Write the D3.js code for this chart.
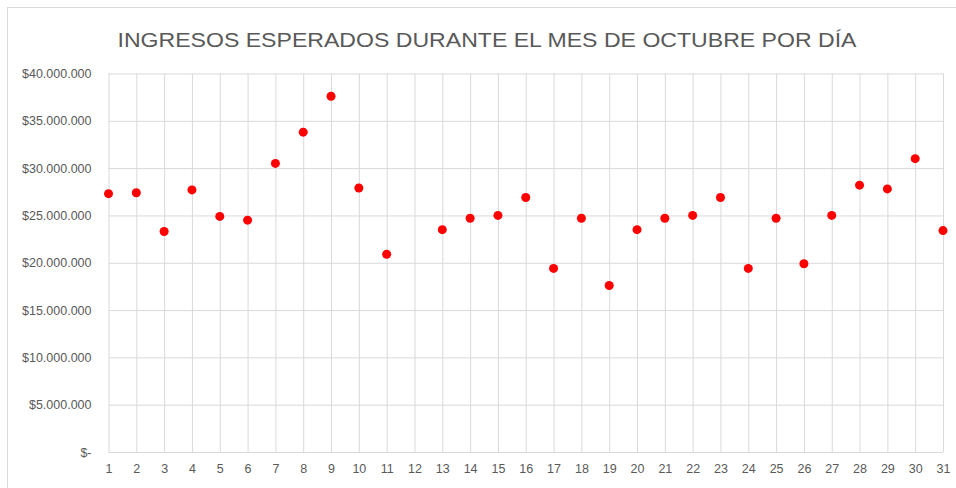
<!DOCTYPE html>
<html>
<head>
<meta charset="utf-8">
<script src="https://cdn.jsdelivr.net/npm/d3@7"></script>
<style>
  body { margin: 0; background: #ffffff; }
  svg { display: block; }
</style>
</head>
<body>
<div id="chart"></div>
<script>
// data (day 12 has no value)
const days = [1, 2, 3, 4, 5, 6, 7, 8, 9, 10, 11, 13, 14, 15, 16, 17, 18, 19, 20,
              21, 22, 23, 24, 25, 26, 27, 28, 29, 30, 31];
const ingresos = [27300000, 27400000, 23300000, 27700000, 24900000, 24500000,
                  30500000, 33800000, 37600000, 27900000, 20900000,
                  23500000, 24700000, 25000000, 26900000, 19400000, 24700000,
                  17600000, 23500000, 24700000, 25000000, 26900000, 19400000,
                  24700000, 19900000, 25000000, 28200000, 27800000, 31000000,
                  23400000];
const xTicks = d3.range(1, 32);
const yTicks = [0, 5000000, 10000000, 15000000, 20000000, 25000000,
                30000000, 35000000, 40000000];
const titulo = "INGRESOS ESPERADOS DURANTE EL MES DE OCTUBRE POR DÍA";

const width = 956, height = 488;
const margin = {left: 108.5, right: 13, top: 73.5, bottom: 36};

const svg = d3.select("#chart").append("svg")
    .attr("width", width)
    .attr("height", height);

// chart frame
svg.append("rect")
    .attr("x", 7.5).attr("y", 7.5)
    .attr("width", 980).attr("height", 520)
    .attr("fill", "#ffffff")
    .attr("stroke", "#d9d9d9");

const x = d3.scaleLinear()
    .domain([1, 31])
    .range([margin.left, width - margin.right]);
const y = d3.scaleLinear()
    .domain([0, 40000000])
    .range([height - margin.bottom, margin.top]);

const fmt = v => v === 0 ? "$-" : "$" + d3.format(",")(v).replace(/,/g, ".");

// horizontal grid + y labels
const yAxis = d3.axisLeft(y)
    .tickValues(yTicks)
    .tickSize(-(width - margin.left - margin.right))
    .tickPadding(17)
    .tickFormat(fmt);
const gy = svg.append("g")
    .attr("transform", `translate(${margin.left},0)`)
    .call(yAxis);
gy.select(".domain").remove();

// vertical grid + x labels
const xAxis = d3.axisBottom(x)
    .tickValues(xTicks)
    .tickSize(-(height - margin.top - margin.bottom))
    .tickPadding(12)
    .tickFormat(d3.format("d"));
const gx = svg.append("g")
    .attr("transform", `translate(0,${height - margin.bottom})`)
    .call(xAxis);
gx.select(".domain").remove();

svg.selectAll(".tick line")
    .attr("stroke", "#d9d9d9")
    .attr("stroke-width", 1);
svg.selectAll(".tick text")
    .attr("fill", "#595959")
    .style("font-family", "'Liberation Sans', Arial, sans-serif")
    .style("font-size", "12.5px");

// points
svg.append("g").selectAll("circle")
    .data(days.map((d, i) => ({day: d, v: ingresos[i]})))
    .enter().append("circle")
    .attr("cx", d => x(d.day))
    .attr("cy", d => y(d.v))
    .attr("r", 4.5)
    .attr("fill", "#ff0000");

// title
svg.append("text")
    .attr("x", 487)
    .attr("y", 47)
    .attr("text-anchor", "middle")
    .attr("textLength", 739)
    .attr("lengthAdjust", "spacingAndGlyphs")
    .attr("fill", "#595959")
    .style("font-family", "'Liberation Sans Narrow', 'Liberation Sans', Arial, sans-serif")
    .style("font-size", "21px")
    .text(titulo);
</script>
</body>
</html>
